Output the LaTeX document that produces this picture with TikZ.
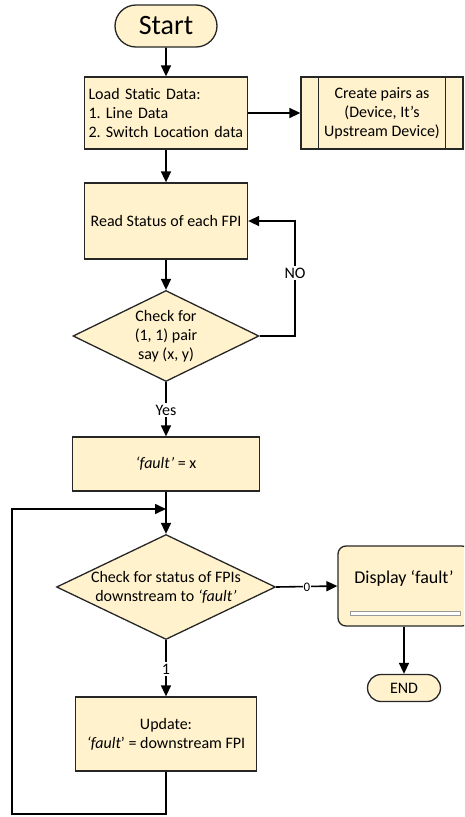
\documentclass[tikz,border=0pt]{standalone}
\usepackage{fontspec}
\setmainfont{Carlito}
\frenchspacing
\usetikzlibrary{arrows.meta,shapes.geometric,shapes.misc}
\definecolor{boxfill}{HTML}{FFF2CC}
\definecolor{boxline}{HTML}{262626}
\begin{document}
\begin{tikzpicture}[x=1pt,y=-1pt,
  base/.style={draw=boxline,fill=boxfill,line width=1.3pt,inner sep=0pt,
    font=\fontsize{16}{19}\selectfont,align=center},
  proc/.style={base,rectangle},
  term/.style={base,rounded rectangle},
  dec/.style={base,diamond},
  txt/.style={font=\fontsize{16}{19}\selectfont,align=center,inner sep=0pt},
  flow/.style={line width=1.6pt,-{Triangle[length=11pt,width=10pt]}},
  lbl/.style={fill=white,inner sep=1.5pt,font=\fontsize{16}{17}\selectfont}]
\useasboundingbox (0,0) rectangle (464,817);
\clip (0,0) rectangle (464,817);

% process chain
\node[term,minimum width=102,minimum height=42,font=\fontsize{28}{32}\selectfont] (start) at (166,26) {Start};
\node[proc,minimum width=163,minimum height=72,text width=155,align=left] (load) at (166,113)
  {Load Static Data:\\1. Line Data\\2. Switch Location data};
\node[proc,minimum width=162,minimum height=72] (pairs) at (382,113)
  {Create pairs as\\(Device, It’s\\Upstream Device)};
\draw[line width=1.3pt,boxline] ([xshift=18pt]pairs.north west) -- ([xshift=18pt]pairs.south west)
  ([xshift=-18pt]pairs.north east) -- ([xshift=-18pt]pairs.south east);
\node[proc,minimum width=163,minimum height=76] (read) at (166,221) {Read Status of each FPI};
\node[dec,minimum width=186,minimum height=91] (chk1) at (166,336) {};
\node[txt] (chk1t) at (chk1) {Check for\\(1, 1) pair\\say (x, y)};
\node[proc,minimum width=187,minimum height=54] (fault) at (166,464) {\textit{‘fault’} = x};
\coordinate (merge) at (166,509);
\node[dec,minimum width=219,minimum height=105] (chk2) at (166,587) {};
\node[txt] (chk2t) at (166,587) {Check for status of FPIs\\downstream to \textit{‘fault’}};
\node[proc,minimum width=181,minimum height=74] (upd) at (166,734)
  {Update:\\\textit{‘fault}’ = downstream FPI};

% output branch
\node[base,rectangle,rounded corners=8pt,minimum width=132,minimum height=80] (disp) at (404,586) {};
\node[txt,font=\fontsize{18}{20}\selectfont] (dispt) at (404,578) {Display ‘fault’};
\draw[draw=gray!80,fill=white,line width=0.8pt] (350,611) rectangle (460,615);
\node[term,minimum width=73,minimum height=27] (end) at (404,688) {END};

% connectors
\draw[flow] (start) -- (load);
\draw[flow] (load) -- (pairs);
\draw[flow] (load) -- (read);
\draw[flow] (read) -- (chk1);
\draw[flow] (chk1.east) -- (295,336) -- (295,221) -- (read.east);
\node[lbl] at (295,273) {NO};
\draw[flow] (chk1) -- (fault);
\node[lbl] at (166,410) {Yes};
\draw[flow] (fault) -- (chk2);
\draw[flow] (upd.south) -- (166,814) -- (12,814) -- (12,509) -- (merge);
\draw[flow] (chk2.east) -- (disp.west);
\node[lbl,font=\fontsize{13}{14}\selectfont,inner sep=0.5pt] at (307,587) {0};
\draw[flow] (chk2) -- (upd);
\node[lbl] at (166,669) {1};
\draw[flow] (disp) -- (end);
\end{tikzpicture}
\end{document}
